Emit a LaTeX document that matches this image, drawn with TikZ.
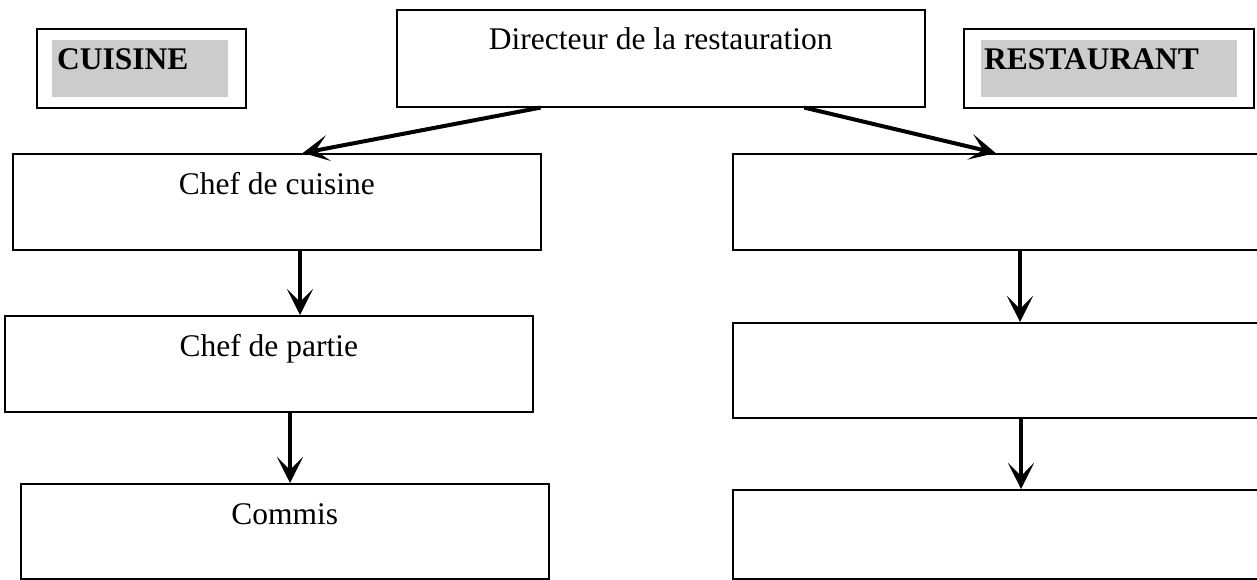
\documentclass[tikz,border=0pt]{standalone}
\usepackage{fontspec}
\setmainfont{Liberation Serif}
\usetikzlibrary{arrows.meta,calc}
\definecolor{labelgray}{HTML}{CCCCCC}
\tikzset{
  box/.style={draw=black, line width=1.6pt, anchor=north west, inner sep=0pt},
  graybox/.style={fill=labelgray, anchor=north west, inner sep=0pt},
  txt/.style={inner sep=0pt, anchor=base, font=\fontsize{31.5}{38}\selectfont},
  btxt/.style={inner sep=0pt, anchor=base west, font=\fontsize{31.5}{38}\selectfont\bfseries},
  arr/.style={line width=4pt, -{Stealth[length=26pt, width=26pt, inset=13pt]}}
}
\begin{document}
\begin{tikzpicture}[x=1pt, y=-1pt]
\useasboundingbox (0,0) rectangle (1257,580);
\clip (0,0) rectangle (1257,580);
% header boxes
\node[box, minimum width=209pt, minimum height=79pt] (cuisinebox) at (36,28) {};
\node[graybox, minimum width=176pt, minimum height=57pt] (cuisinegray) at (52,40) {};
\node[btxt] (cuisine) at (57,70) {CUISINE};
\node[box, minimum width=528pt, minimum height=97pt] (dir) at (396,9) {};
\node[txt] (dirtxt) at ($(dir.north)+(0,41)$) {Directeur de la restauration};
\node[box, minimum width=290pt, minimum height=79pt] (restbox) at (963,28) {};
\node[graybox, minimum width=256pt, minimum height=57pt] (restgray) at (981,40) {};
\node[btxt] (rest) at (984,70) {RESTAURANT};
% left column
\node[box, minimum width=528pt, minimum height=96pt] (cc) at (12,153) {};
\node[txt] (cctxt) at ($(cc.north)+(0,41)$) {Chef de cuisine};
\node[box, minimum width=528pt, minimum height=96pt] (cp) at (4,315) {};
\node[txt] (cptxt) at ($(cp.north)+(0,41)$) {Chef de partie};
\node[box, minimum width=528pt, minimum height=95pt] (cm) at (20,483) {};
\node[txt] (cmtxt) at ($(cm.north)+(0,41)$) {Commis};
% right column
\node[box, minimum width=530pt, minimum height=96pt] (r1) at (732,153) {};
\node[box, minimum width=530pt, minimum height=95pt] (r2) at (732,322) {};
\node[box, minimum width=530pt, minimum height=89pt] (r3) at (732,489) {};
% arrows
\draw[arr] ($(dir.south west)!0.273!(dir.south east)$) -- ($(cc.north west)!0.549!(cc.north east)$);
\draw[arr] ($(dir.south west)!0.771!(dir.south east)$) -- ($(r1.north west)!0.496!(r1.north east)$);
\draw[arr] (cc.south -| 300,0) -- (cp.north -| 300,0);
\draw[arr] (cp.south -| 290,0) -- (cm.north -| 290,0);
\draw[arr] (r1.south -| 1020,0) -- (r2.north -| 1020,0);
\draw[arr] (r2.south -| 1021,0) -- (r3.north -| 1021,0);
\end{tikzpicture}
\end{document}
